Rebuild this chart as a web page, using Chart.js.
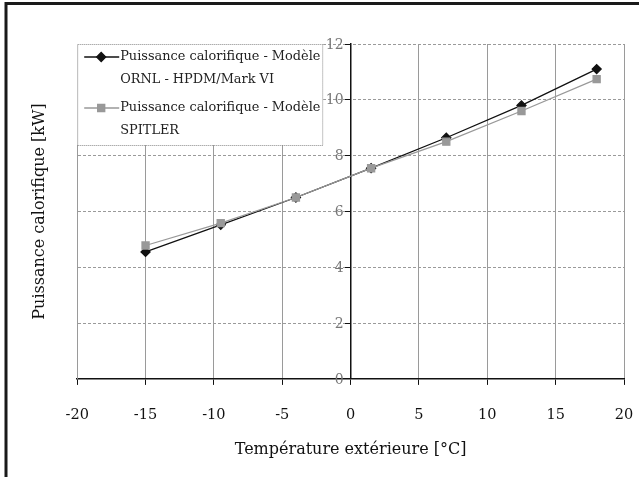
<!DOCTYPE html>
<html>
<head>
<meta charset="utf-8">
<script src="https://cdn.jsdelivr.net/npm/chart.js@4.4.0/dist/chart.umd.min.js"></script>
<style>
  html, body { margin: 0; padding: 0; background: #fff; }
  #wrap { width: 639px; height: 477px; }
</style>
</head>
<body>
<div id="wrap"><canvas id="heatChart" width="639" height="477"></canvas></div>
<script>
// Température extérieure [°C]
const temperatures = [-15, -9.5, -4, 1.5, 7, 12.5, 18];
// Puissance calorifique [kW] pour chaque modèle
const ornlValues = [4.55, 5.52, 6.5, 7.55, 8.64, 9.8, 11.1];
const spitlerValues = [4.78, 5.58, 6.5, 7.55, 8.5, 9.6, 10.74];
const seriesNames = [
    ['Puissance calorifique - Modèle', 'ORNL - HPDM/Mark VI'],
    ['Puissance calorifique - Modèle', 'SPITLER']
];
const xTitle = 'Température extérieure [°C]';
const yTitle = 'Puissance calorifique [kW]';

const SERIF = '"DejaVu Serif", "Liberation Serif", serif';
const GRID = '#9a9a9a';

function toPoints(values) {
    return temperatures.map((t, i) => ({ x: t, y: values[i] }));
}

// black frame on the top and left edges of the figure
const framePlugin = {
    id: 'frame',
    beforeDraw(chart) {
        const ctx = chart.ctx;
        ctx.save();
        ctx.fillStyle = '#fff';
        ctx.fillRect(0, 0, chart.width, chart.height);
        ctx.strokeStyle = '#1a1a1a';
        ctx.lineWidth = 3;
        ctx.beginPath();
        ctx.moveTo(6, chart.height);
        ctx.lineTo(6, 3.5);
        ctx.lineTo(chart.width, 3.5);
        ctx.stroke();
        ctx.restore();
    }
};

// value labels of the vertical axis crossing at x = 0, set just left of it
const axisLabelsPlugin = {
    id: 'axisLabels',
    afterDraw(chart) {
        const scale = chart.scales.yAxis0;
        const xPix = chart.scales.x.getPixelForValue(0);
        const ctx = chart.ctx;
        ctx.save();
        ctx.font = '14px ' + SERIF;
        ctx.fillStyle = '#777';
        ctx.textAlign = 'right';
        ctx.textBaseline = 'middle';
        scale.ticks.forEach((t) => {
            ctx.fillText(String(t.value), xPix - 7, scale.getPixelForValue(t.value) + 1);
        });
        ctx.restore();
    }
};

// legend box in the upper left corner of the plot area
const boxLegendPlugin = {
    id: 'boxLegend',
    afterDraw(chart) {
        const ctx = chart.ctx;
        const area = chart.chartArea;
        const left = area.left, top = area.top;
        const w = 246, h = 101;
        ctx.save();
        ctx.fillStyle = '#fff';
        ctx.fillRect(left, top, w, h);
        ctx.strokeStyle = '#888';
        ctx.lineWidth = 1;
        ctx.setLineDash([1, 1]);
        ctx.strokeRect(left + 0.5, top + 0.5, w - 1, h);
        ctx.setLineDash([]);

        ctx.font = '12.9px ' + SERIF;
        ctx.textBaseline = 'middle';
        ctx.textAlign = 'left';
        chart.data.datasets.forEach((ds, i) => {
            const y = top + 13 + i * 51;
            ctx.strokeStyle = ds.borderColor;
            ctx.lineWidth = ds.borderWidth;
            ctx.beginPath();
            ctx.moveTo(left + 7, y);
            ctx.lineTo(left + 42, y);
            ctx.stroke();
            Chart.helpers.drawPoint(ctx, {
                pointStyle: ds.pointStyle,
                radius: ds.pointRadius,
                rotation: 0,
                borderWidth: 1
            }, left + 24, y);
            ctx.fillStyle = ds.pointBackgroundColor;
            ctx.strokeStyle = ds.pointBorderColor;
            ctx.fill();
            ctx.fillStyle = '#222';
            seriesNames[i].forEach((line, j) => {
                ctx.fillText(line, left + 43, y + j * 23);
            });
        });
        ctx.restore();
    }
};

new Chart(document.getElementById('heatChart').getContext('2d'), {
    type: 'line',
    data: {
        datasets: [{
            label: seriesNames[0].join(' '),
            data: toPoints(ornlValues),
            borderColor: '#111',
            backgroundColor: '#111',
            borderWidth: 1.3,
            pointStyle: 'rectRot',
            pointRadius: 4.5,
            pointBackgroundColor: '#111',
            pointBorderColor: '#111',
            order: 1
        }, {
            label: seriesNames[1].join(' '),
            data: toPoints(spitlerValues),
            borderColor: '#999',
            backgroundColor: '#999',
            borderWidth: 1.3,
            pointStyle: 'rect',
            pointRadius: 5,
            pointBackgroundColor: '#999',
            pointBorderColor: '#999',
            order: 0
        }]
    },
    options: {
        responsive: false,
        animation: false,
        layout: { autoPadding: false, padding: { left: 30, right: 15, top: 44, bottom: 18 } },
        plugins: {
            legend: { display: false },
            tooltip: { enabled: false }
        },
        scales: {
            x: {
                type: 'linear',
                position: 'bottom',
                min: -20,
                max: 20,
                // tall line height keeps the labels low without widening the side margins
                ticks: { stepSize: 5, color: '#111', padding: 0, font: { family: SERIF, size: 14.5, lineHeight: 4.2 } },
                grid: {
                    color: GRID,
                    borderDash: [3, 2],
                    tickLength: 6,
                    tickColor: '#111',
                    tickBorderDash: []
                },
                border: { display: true, color: '#111', width: 1.5 },
                title: {
                    display: true,
                    text: xTitle,
                    color: '#111',
                    font: { family: SERIF, size: 16 },
                    padding: { top: -6, bottom: 0 }
                }
            },
            y: {
                position: 'left',
                min: 0,
                max: 12,
                ticks: { display: false, stepSize: 2 },
                grid: { color: GRID, borderDash: [3, 2], drawTicks: false },
                border: { display: true, color: GRID, dash: [3, 2] },
                title: {
                    display: true,
                    text: yTitle,
                    color: '#111',
                    font: { family: SERIF, size: 16 },
                    padding: { top: 0, bottom: 28 }
                }
            },
            yAxis0: {
                axis: 'y',
                position: { x: 0 },
                min: 0,
                max: 12,
                ticks: { display: false, stepSize: 2 },
                grid: { drawOnChartArea: false, tickLength: 5, tickColor: '#111' },
                border: { display: true, color: '#111', width: 1.5 }
            }
        }
    },
    plugins: [framePlugin, axisLabelsPlugin, boxLegendPlugin]
});
</script>
</body>
</html>
